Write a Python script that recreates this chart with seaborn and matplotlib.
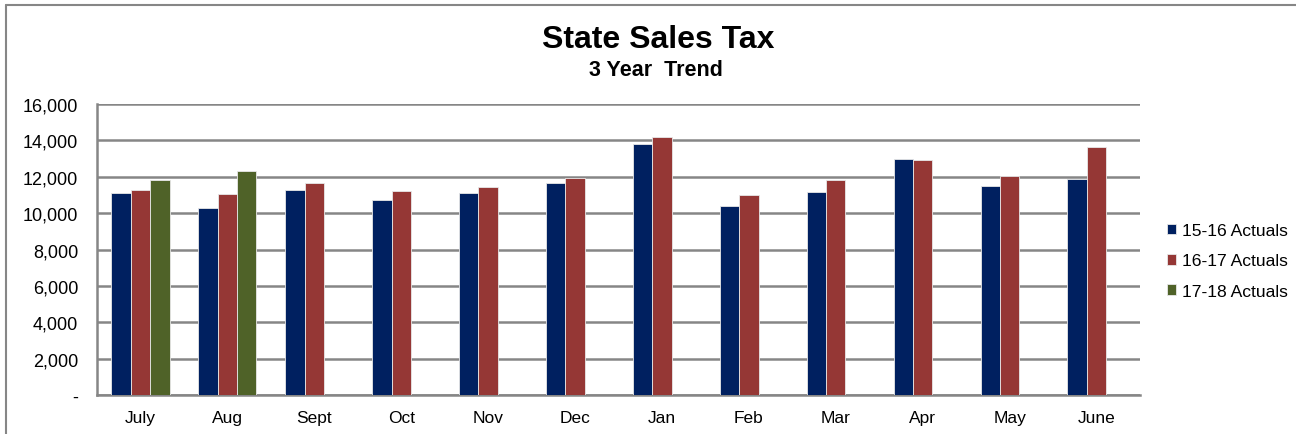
import numpy as np
import pandas as pd
import seaborn as sns
import matplotlib.pyplot as plt
from matplotlib.lines import Line2D
from matplotlib.ticker import FuncFormatter

months = ["July", "Aug", "Sept", "Oct", "Nov", "Dec",
          "Jan", "Feb", "Mar", "Apr", "May", "June"]
actuals_15_16 = [11090, 10260, 11270, 10700, 11120, 11650,
                 13780, 10390, 11150, 12990, 11490, 11890]
actuals_16_17 = [11290, 11050, 11670, 11210, 11450, 11930,
                 14180, 10990, 11810, 12920, 12020, 13640]
actuals_17_18 = [11800, 12300]

series = ["15-16 Actuals", "16-17 Actuals", "17-18 Actuals"]
colors = ["#002060", "#953735", "#4F6228"]

rows = []
for name, vals in zip(series, [actuals_15_16, actuals_16_17, actuals_17_18]):
    for m, v in zip(months, vals):
        rows.append({"Month": m, "Year": name, "Value": v})
df = pd.DataFrame(rows)

sns.set_style("white")
plt.rcParams['font.family'] = ['Liberation Sans', 'DejaVu Sans']
plt.rcParams['text.color'] = 'black'
plt.rcParams['xtick.labelcolor'] = 'black'
plt.rcParams['ytick.labelcolor'] = 'black'

fig = plt.figure(figsize=(12.96, 4.35), dpi=100)
ax = fig.add_axes([97 / 1296, 1 - 396 / 435, (1140 - 97) / 1296, (396 - 105) / 435])

sns.barplot(data=df, x="Month", y="Value", hue="Year", order=months,
            hue_order=series, palette=colors, width=0.67, saturation=1,
            edgecolor="#e8e8e8", linewidth=0.6, ax=ax, zorder=3)

ax.set_ylim(0, 16000)
ax.set_xlim(-0.5, len(months) - 0.5)
ax.set_yticks(np.arange(0, 16001, 2000))
ax.yaxis.set_major_formatter(FuncFormatter(lambda v, p: "-" if v == 0 else f"{int(v):,}"))
ax.grid(axis="y", color="#868686", linewidth=1.8, zorder=0)
ax.set_axisbelow(True)

for s in ["top", "right"]:
    ax.spines[s].set_visible(False)
for s in ["left", "bottom"]:
    ax.spines[s].set_color("#868686")
    ax.spines[s].set_linewidth(1.8)

ax.set_xticks(np.arange(len(months)))
ax.set_xticklabels(months)
ax.set_xticks(np.arange(-0.5, len(months), 1), minor=True)
ax.tick_params(axis="x", which="major", length=0, pad=11, labelsize=12.5)
ax.tick_params(axis="x", which="minor", length=4, width=1.2, color="#868686", direction="out")
ax.tick_params(axis="y", length=3.5, width=1.2, color="#868686", direction="out", labelsize=13, pad=10)
ax.set_xlabel("")
ax.set_ylabel("")

ax.legend(loc="center left", bbox_to_anchor=(1151 / 1296, 1 - 262 / 435),
          bbox_transform=fig.transFigure, frameon=False, fontsize=12.6,
          handlelength=0.55, handleheight=0.55, handletextpad=0.35, labelspacing=0.87)

fig.text(658 / 1296, 1 - 40 / 435, "State Sales Tax", ha="center", va="center",
         fontsize=23, fontweight="bold")
fig.text(656 / 1296, 1 - 70 / 435, "3 Year  Trend", ha="center", va="center",
         fontsize=15.5, fontweight="bold")

fig.add_artist(Line2D([6 / 1296, 1], [1 - 6 / 435, 1 - 6 / 435], transform=fig.transFigure,
                      color="#868686", linewidth=1.5))
fig.add_artist(Line2D([6 / 1296, 6 / 1296], [0, 1 - 6 / 435], transform=fig.transFigure,
                      color="#868686", linewidth=1.5))

fig.savefig("out.png", dpi=100)
